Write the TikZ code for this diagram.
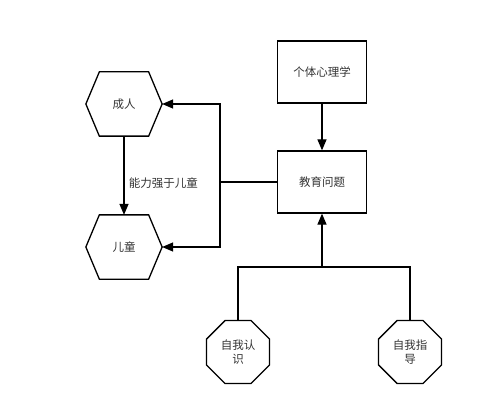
\documentclass[tikz,border=0pt]{standalone}
\usepackage{fontspec}
\newfontfamily\cjk{Noto Sans CJK SC}
\usetikzlibrary{arrows.meta, positioning, shapes.geometric}

\begin{document}
\begin{tikzpicture}[x=1pt, y=-1pt,
				>={Triangle[length=11pt, width=9pt]},
				line width=1.3pt,
				every node/.style={font=\cjk\fontsize{11.5}{14}\selectfont, text=black!80, align=center},
				box/.style={draw, rectangle, minimum width=89pt, minimum height=62pt, inner sep=0pt},
				hexa/.style={rectangle, minimum width=75pt, minimum height=63pt, inner sep=0pt},
				octa/.style={draw, regular polygon, regular polygon sides=8, minimum size=68pt, inner sep=0pt}]
				
				\useasboundingbox (0,0) rectangle (500,414);
				
				% boxes on the right
				\node[box] (psych) at (322,72) {个体心理学};
				\node[box] (edu) at (322,182) {教育问题};
				
				% hexagons on the left
				\node[hexa] (adult) at (124,104) {成人};
				\node[hexa] (child) at (124,247) {儿童};
				\foreach \n in {adult, child}
					\draw ([xshift=13.5pt]\n.north west) -- ([xshift=-13.5pt]\n.north east) -- (\n.east)
						-- ([xshift=-13.5pt]\n.south east) -- ([xshift=13.5pt]\n.south west) -- (\n.west) -- cycle;
				
				% octagons at the bottom
				\node[octa] (selfknow) at (238,352) {自我认\\识};
				\node[octa] (selfguide) at (410,352) {自我指\\导};
				
				\coordinate (split) at (edu.west -| 220,0);
				\coordinate (join) at (edu.south |- 0,267);
				
				\draw[->] (psych) -- (edu);
				\draw[->] (adult) -- node[pos=0.6, right=1pt] (stronger) {能力强于儿童} (child);
				\draw (edu.west) -- (split);
				\draw[->] (split) |- (adult.east);
				\draw[->] (split) |- (child.east);
				\draw (selfknow.north) |- (join) -| (selfguide.north);
				\draw[->] (join) -- (edu.south);
			\end{tikzpicture}
\end{document}
